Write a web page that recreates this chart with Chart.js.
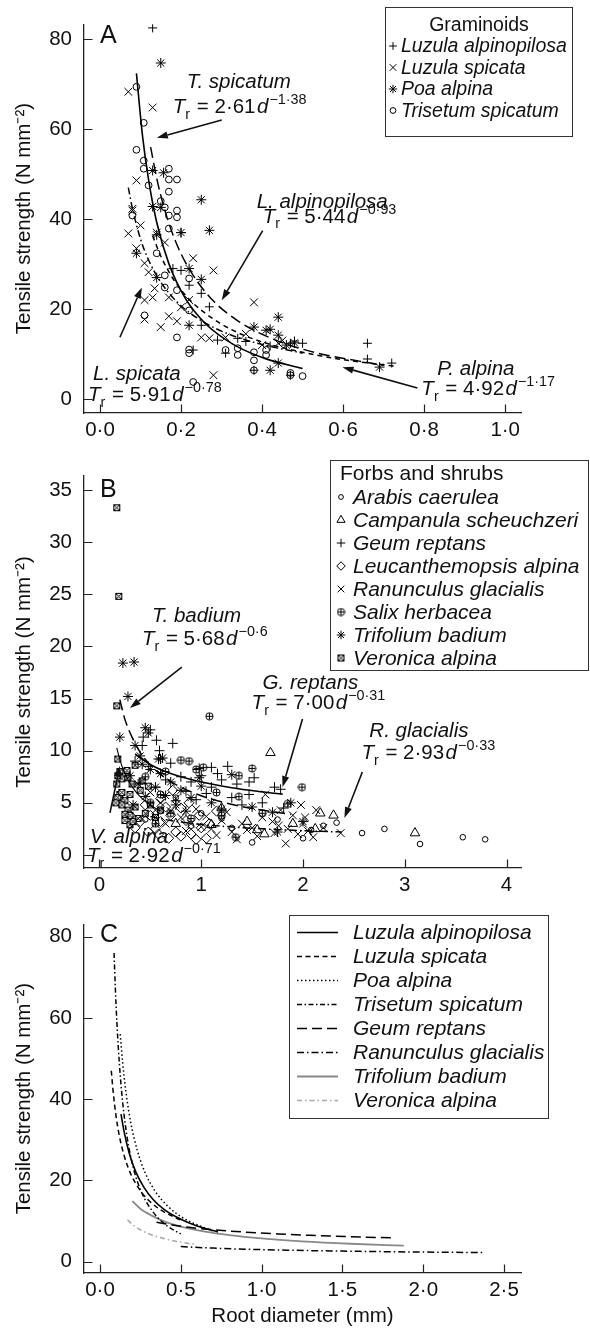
<!DOCTYPE html>
<html><head><meta charset="utf-8">
<script src="https://cdn.jsdelivr.net/npm/chart.js@4.4.1/dist/chart.umd.min.js"></script>
<style>
html,body{margin:0;padding:0;background:#fff;}
#wrap{position:relative;width:590px;height:1332px;overflow:hidden;}
canvas{position:absolute;left:0;}
</style></head><body>
<div id="wrap">
<canvas id="cA" width="590" height="445" style="top:0px"></canvas>
<canvas id="cB" width="590" height="455" style="top:445px"></canvas>
<canvas id="cC" width="590" height="432" style="top:900px"></canvas>
</div>
<script>
// ---------- tick values & labels ----------
const A_XTICKS = [0, 0.2, 0.4, 0.6, 0.8, 1.0];
const A_XLABELS = ['0·0', '0·2', '0·4', '0·6', '0·8', '1·0'];
const A_YTICKS = [0, 20, 40, 60, 80];
const A_YLABELS = ['0', '20', '40', '60', '80'];
const B_XTICKS = [0, 1, 2, 3, 4];
const B_XLABELS = ['0', '1', '2', '3', '4'];
const B_YTICKS = [0, 5, 10, 15, 20, 25, 30, 35];
const B_YLABELS = ['0', '5', '10', '15', '20', '25', '30', '35'];
const C_XTICKS = [0, 0.5, 1.0, 1.5, 2.0, 2.5];
const C_XLABELS = ['0·0', '0·5', '1·0', '1·5', '2·0', '2·5'];
const C_YTICKS = [0, 20, 40, 60, 80];
const C_YLABELS = ['0', '20', '40', '60', '80'];

// ---------- species names ----------
const GRAMINOIDS = ['Luzula alpinopilosa', 'Luzula spicata', 'Poa alpina', 'Trisetum spicatum'];
const FORBS = ['Arabis caerulea', 'Campanula scheuchzeri', 'Geum reptans', 'Leucanthemopsis alpina',
  'Ranunculus glacialis', 'Salix herbacea', 'Trifolium badium', 'Veronica alpina'];
const C_SPECIES = ['Luzula alpinopilosa', 'Luzula spicata', 'Poa alpina', 'Trisetum spicatum',
  'Geum reptans', 'Ranunculus glacialis', 'Trifolium badium', 'Veronica alpina'];

// ---------- Panel A points [diameter mm, tensile strength] ----------
const A_LUZ_ALP = [[0.13,82.5],[0.20,37.0],[0.20,28.6],[0.22,25.3],[0.25,23.5],[0.25,16.4],[0.29,13.1],[0.23,10.9],[0.31,10.2],[0.34,13.5],[0.38,6.4],[0.36,12.8],[0.47,12.4],[0.48,12.9],[0.50,12.4],[0.66,12.4],[0.66,8.9],[0.72,8.0],[0.47,5.3],[0.18,29.0],[0.27,20.5],[0.42,11.8]];
const A_LUZ_SPI = [[0.07,68.3],[0.13,64.8],[0.09,48.6],[0.08,42.3],[0.08,41.9],[0.07,36.8],[0.10,38.6],[0.14,37.0],[0.11,30.2],[0.16,34.8],[0.23,31.3],[0.28,28.6],[0.12,28.2],[0.135,24.6],[0.11,22.0],[0.13,22.6],[0.17,22.6],[0.22,22.0],[0.20,20.4],[0.38,21.5],[0.11,17.7],[0.17,18.4],[0.19,17.3],[0.15,16.0],[0.25,13.7],[0.27,13.5],[0.31,13.7],[0.28,5.3],[0.44,12.4],[0.45,13.0],[0.09,33.5],[0.36,14.5],[0.40,12.0]];
const A_POA = [[0.15,74.7],[0.13,50.8],[0.157,50.3],[0.25,44.3],[0.13,42.8],[0.15,42.6],[0.20,37.0],[0.27,37.5],[0.09,32.4],[0.22,29.0],[0.25,26.6],[0.14,27.0],[0.22,16.4],[0.38,16.0],[0.41,15.3],[0.42,15.5],[0.44,18.2],[0.44,14.2],[0.42,6.4],[0.44,8.0],[0.69,7.1],[0.48,12.5],[0.14,36.5],[0.46,12.0]];
const A_TRI = [[0.09,69.4],[0.108,61.4],[0.09,55.4],[0.108,53.0],[0.108,51.2],[0.17,51.2],[0.17,48.8],[0.19,48.8],[0.17,46.1],[0.08,40.8],[0.16,42.6],[0.17,40.8],[0.19,41.9],[0.19,40.4],[0.17,37.9],[0.14,32.4],[0.16,27.5],[0.16,24.8],[0.19,24.2],[0.22,26.8],[0.22,19.7],[0.11,18.6],[0.19,13.7],[0.22,10.2],[0.22,11.0],[0.31,10.9],[0.34,11.3],[0.34,9.8],[0.38,10.4],[0.38,8.6],[0.41,10.9],[0.41,9.8],[0.38,6.4],[0.23,3.8],[0.47,5.3],[0.50,5.1],[0.47,5.8],[0.15,44.0],[0.12,47.5]];

// ---------- Panel B points ----------
const B_ARA = [[2.33,3.1],[2.58,2.1],[2.80,2.5],[3.15,1.05],[3.57,1.7],[3.79,1.5],[2.00,1.6],[2.08,2.4],[1.50,1.2],[0.90,2.8],[1.20,3.5],[0.60,4.2],[0.75,5.5],[1.00,4.0],[1.30,2.6],[2.20,2.8],[0.45,3.4],[1.75,3.4]];
const B_CAM = [[1.68,9.8],[2.17,4.0],[2.30,3.8],[3.10,2.1],[1.55,2.4],[1.62,2.0],[1.90,3.0],[1.45,3.2],[0.75,3.0],[1.10,2.9],[1.20,4.5],[2.12,2.5]];
const B_GEUM = [[0.43,11.3],[0.56,11.0],[0.72,10.7],[0.59,10.0],[0.98,8.3],[1.10,8.4],[1.26,8.5],[1.16,7.8],[1.47,7.0],[1.10,6.5],[1.72,6.5],[1.47,5.8],[1.81,4.5],[0.50,12.0],[0.42,10.5],[0.35,9.0],[0.48,8.5],[0.60,9.2],[0.70,8.8],[0.80,7.5],[0.90,7.0],[1.00,7.6],[1.20,7.2],[1.35,6.8],[0.65,7.2],[0.55,6.5],[0.85,6.1],[1.05,5.9],[1.30,5.5],[1.60,5.0],[0.75,5.2],[0.40,6.9],[0.95,5.3],[1.40,4.8],[1.52,7.4],[1.78,6.3]];
const B_LEU = [[0.55,2.5],[0.60,3.2],[0.70,3.8],[0.75,2.2],[0.80,4.5],[0.85,3.3],[0.90,2.0],[0.95,1.5],[1.00,2.6],[1.05,1.6],[0.65,4.6],[0.50,3.8],[0.45,4.8],[0.40,3.2],[0.35,2.6],[0.60,5.4],[0.72,6.2],[0.88,5.0],[1.08,3.0],[1.15,4.2],[0.80,1.8],[0.30,3.8],[0.48,2.2],[0.98,3.8],[0.68,1.6],[0.58,2.0]];
const B_RAN = [[0.50,6.0],[0.60,5.0],[0.70,4.2],[0.80,3.6],[0.90,3.0],[1.00,2.7],[1.10,2.5],[1.20,3.3],[1.30,2.2],[1.40,3.0],[1.50,2.6],[1.55,1.8],[1.63,5.8],[1.70,3.2],[1.76,2.8],[1.83,1.1],[1.85,2.5],[1.90,3.8],[1.95,2.0],[2.00,3.0],[2.05,2.3],[2.10,1.7],[2.13,4.3],[2.20,2.6],[2.37,2.1],[0.65,3.0],[0.75,5.4],[0.85,2.3],[0.95,4.4],[1.05,3.7],[1.15,1.9],[1.25,4.1],[1.35,1.5],[1.45,2.4],[1.60,3.6],[0.55,4.3],[1.72,2.1],[1.98,4.8],[1.78,4.3],[2.02,3.6]];
const B_SAL = [[1.08,13.3],[0.80,9.1],[0.88,9.0],[1.50,8.3],[1.37,7.6],[1.37,5.6],[1.34,1.7],[1.99,6.5],[0.95,8.2],[0.60,5.8],[0.70,4.0],[0.55,3.0],[0.90,3.5],[0.50,5.0],[1.20,3.8],[0.45,7.5],[1.15,6.0],[1.60,4.0],[0.65,8.0],[1.85,4.9],[1.02,8.4]];
const B_TRIF = [[0.23,18.4],[0.34,18.5],[0.28,15.2],[0.20,11.3],[0.45,12.2],[0.48,11.7],[0.58,9.2],[1.30,7.7],[1.88,5.0],[0.35,10.5],[0.40,9.5],[0.50,8.2],[0.60,7.8],[0.70,7.0],[0.80,6.2],[0.90,5.5],[1.00,6.6],[1.10,5.0],[1.50,4.6],[1.70,4.1],[0.30,7.6],[0.38,6.8],[0.42,8.7],[0.55,6.5],[0.65,5.7],[0.75,4.8],[0.85,4.2],[1.20,4.4],[2.00,3.2],[1.75,2.2],[0.45,5.6],[0.33,4.8],[0.62,9.3],[0.98,7.4]];
const B_VER = [[0.17,33.3],[0.19,24.8],[0.17,14.3],[0.18,9.2],[0.20,8.0],[0.22,7.3],[0.17,6.8],[0.20,5.8],[0.18,5.5],[0.25,5.2],[0.22,4.8],[0.28,4.3],[0.30,3.8],[0.25,3.3],[0.30,5.8],[0.35,4.6],[0.40,6.2],[0.38,3.5],[0.45,4.0],[0.50,4.8],[0.55,3.6],[0.60,4.3],[0.42,7.1],[0.32,6.8],[0.27,8.1],[0.35,8.6],[0.48,6.6],[0.22,6.0],[0.16,5.0],[0.30,2.9],[0.25,3.9],[0.28,7.4],[0.18,7.6],[0.33,3.2]];

// ---------- fitted curves, values ----------
const CV_LUZALP_D = [0.13,0.15,0.18,0.22,0.27,0.33,0.40,0.50,0.60,0.73];
const CV_LUZALP_T = [36.3,31.8,26.8,22.2,18.4,15.2,12.7,10.4,8.75,7.29];
const CV_LUZSPI_D = [0.07,0.08,0.10,0.12,0.15,0.19,0.24,0.30,0.38,0.50];
const CV_LUZSPI_T = [47.0,42.4,35.6,30.9,26.0,21.6,18.0,15.1,12.6,10.2];
const CV_POA_D = [0.125,0.14,0.16,0.19,0.23,0.28,0.34,0.42,0.52,0.70];
const CV_POA_T = [56.0,49.1,42.0,34.3,27.5,21.8,17.4,13.6,10.6,7.47];
const CV_TRI_D = [0.087,0.095,0.105,0.12,0.14,0.17,0.21,0.26,0.33,0.41,0.50];
const CV_TRI_T = [76.0,67.3,58.5,48.7,39.3,30.1,22.5,16.8,12.1,8.93,6.79];
const CVA_TRI_D = [0.09,0.105,0.12,0.14,0.17,0.21,0.26,0.33,0.41,0.50];
const CVA_TRI_T = [72.4,58.5,48.7,39.3,30.1,22.5,16.8,12.1,8.93,6.79];
const CV_GEUM_D = [0.35,0.45,0.55,0.70,0.90,1.10,1.30,1.55,1.80];
const CV_GEUM_T = [9.69,8.97,8.42,7.82,7.23,6.80,6.45,6.11,5.83];
const CV_RAN_D = [0.50,0.70,0.90,1.20,1.50,1.80,2.10,2.38];
const CV_RAN_T = [3.68,3.30,3.03,2.76,2.56,2.41,2.29,2.20];
const CV_TRIF_D = [0.20,0.25,0.32,0.40,0.50,0.65,0.80,1.00,1.25,1.55,1.88];
const CV_TRIF_T = [14.9,13.0,11.3,9.84,8.61,7.35,6.49,5.68,4.97,4.37,3.89];
const CV_VER_D = [0.17,0.20,0.24,0.29,0.35,0.42,0.50,0.60];
const CV_VER_T = [10.27,9.15,8.04,7.03,6.15,5.41,4.78,4.20];

// ---------- equations ----------
const A_EQ_NAMES = ['T. spicatum', 'L. alpinopilosa', 'L. spicata', 'P. alpina'];
const A_EQ_COEF = ['2·61', '5·44', '5·91', '4·92'];
const A_EQ_EXP = ['−1·38', '−0·93', '−0·78', '−1·17'];
const B_EQ_NAMES = ['T. badium', 'G. reptans', 'R. glacialis', 'V. alpina'];
const B_EQ_COEF = ['5·68', '7·00', '2·93', '2·92'];
const B_EQ_EXP = ['−0·6', '−0·31', '−0·33', '−0·71'];

// ================= rendering =================
const FONT = '"Liberation Sans", Arial, Helvetica, sans-serif';
const INK = '#111';

function mkImg(draw) {
  const c = document.createElement('canvas'); c.width = 9; c.height = 9;
  const g = c.getContext('2d'); g.strokeStyle = '#000'; g.lineWidth = 1; draw(g); return c;
}
const SALIX_STYLE = mkImg(g => {
  g.beginPath(); g.arc(4.5, 4.5, 3.6, 0, Math.PI * 2); g.stroke();
  g.beginPath(); g.moveTo(4.5, 1.2); g.lineTo(4.5, 7.8); g.moveTo(1.2, 4.5); g.lineTo(7.8, 4.5); g.stroke();
});
const VER_STYLE = mkImg(g => {
  g.fillStyle = '#eee'; g.fillRect(1, 1, 7, 7); g.strokeRect(1.5, 1.5, 6, 6);
  g.beginPath(); g.moveTo(1.5, 1.5); g.lineTo(7.5, 7.5); g.moveTo(7.5, 1.5); g.lineTo(1.5, 7.5); g.stroke();
});

const A_MARK = [{s:'cross', r:4.5}, {s:'crossRot', r:5.5}, {s:'star', r:5}, {s:'circle', r:3.4}];
const B_MARK = [{s:'circle', r:2.8}, {s:'triangle', r:5.5}, {s:'cross', r:5}, {s:'rectRot', r:5},
  {s:'crossRot', r:5.5}, {s:SALIX_STYLE, r:4.5}, {s:'star', r:5}, {s:VER_STYLE, r:4.5}];
const C_LINE = [
  {c:'#000', w:1.6, d:[]}, {c:'#000', w:1.5, d:[5, 3.5]}, {c:'#000', w:1.5, d:[1.5, 2.5]},
  {c:'#000', w:1.5, d:[5, 2.5, 1.5, 2.5]}, {c:'#000', w:1.5, d:[10, 5]}, {c:'#000', w:1.5, d:[7, 3, 1.5, 3]},
  {c:'#888', w:1.8, d:[]}, {c:'#a8a8a8', w:1.5, d:[5, 3, 1.5, 3]}];

function pts(arr) { return arr.map(p => ({x: p[0], y: p[1]})); }
function curve(d, t) { return d.map((x, i) => ({x: x, y: t[i]})); }
function scat(arr, m) {
  return {data: pts(arr), pointStyle: m.s, pointRadius: m.r, pointHoverRadius: m.r, borderColor: '#000',
    backgroundColor: 'rgba(0,0,0,0)', borderWidth: 1, showLine: false};
}
function line(d, t, st) {
  return {data: curve(d, t), showLine: true, pointRadius: 0, pointHoverRadius: 0, borderColor: st.c,
    borderWidth: st.w, borderDash: st.d, fill: false, cubicInterpolationMode: 'monotone'};
}

function drawRich(ctx, x, y, parts, size) {
  ctx.textBaseline = 'alphabetic'; ctx.textAlign = 'left'; ctx.fillStyle = INK;
  let cx = x;
  for (const p of parts) {
    const small = p.sub || p.sup;
    const fs = small ? size * 0.7 : size;
    ctx.font = (p.it ? 'italic ' : '') + fs + 'px ' + FONT;
    const dy = p.sup ? -size * 0.42 : (p.sub ? size * 0.28 : 0);
    ctx.fillText(p.t, cx, y + dy);
    cx += ctx.measureText(p.t).width + (p.gap || 0);
  }
}
function eqParts(coef, ex) {
  return [{t:'T', it:true}, {t:'r', sub:true, gap:1}, {t:' = ' + coef, gap:1.5}, {t:'d', it:true, gap:1}, {t:ex, sup:true}];
}
function arrow(ctx, x1, y1, x2, y2) {
  const a = Math.atan2(y2 - y1, x2 - x1), L = 11, W = 3.6;
  const bx = x2 - L * Math.cos(a), by = y2 - L * Math.sin(a);
  ctx.setLineDash([]); ctx.lineWidth = 1.6; ctx.strokeStyle = INK; ctx.fillStyle = INK;
  ctx.beginPath(); ctx.moveTo(x1, y1); ctx.lineTo(bx, by); ctx.stroke();
  ctx.beginPath(); ctx.moveTo(x2, y2);
  ctx.lineTo(bx - W * Math.sin(a), by + W * Math.cos(a));
  ctx.lineTo(bx + W * Math.sin(a), by - W * Math.cos(a)); ctx.closePath(); ctx.fill();
}
function drawMark(ctx, m, x, y) {
  ctx.save(); ctx.strokeStyle = '#000'; ctx.fillStyle = 'rgba(0,0,0,0)'; ctx.lineWidth = 1; ctx.setLineDash([]);
  if (typeof m.s === 'object') { ctx.drawImage(m.s, x - 4.5, y - 4.5); ctx.restore(); return; }
  Chart.helpers.drawPoint(ctx, {pointStyle: m.s, radius: m.r * 0.85, rotation: 0, borderWidth: 1}, x, y);
  ctx.restore();
}

function panelPlugin(cfg) {
  return {
    id: 'panel' + cfg.letter,
    afterDraw(chart) {
      const ctx = chart.ctx, xs = chart.scales.x, ys = chart.scales.y, ca = chart.chartArea;
      const P = (x, y) => [xs.getPixelForValue(x), ys.getPixelForValue(y)];
      ctx.save();
      // inward tick marks
      ctx.strokeStyle = '#222'; ctx.lineWidth = 1.2; ctx.setLineDash([]);
      ctx.beginPath();
      cfg.xt.forEach(v => { const x = Math.round(xs.getPixelForValue(v)) + 0.5; ctx.moveTo(x, ca.bottom); ctx.lineTo(x, ca.bottom - 8.5); });
      cfg.yt.forEach(v => { const y = Math.round(ys.getPixelForValue(v)) + 0.5; ctx.moveTo(ca.left, y); ctx.lineTo(ca.left + 8.5, y); });
      ctx.stroke();
      // panel letter
      ctx.fillStyle = INK; ctx.font = '25px ' + FONT; ctx.textAlign = 'left'; ctx.textBaseline = 'alphabetic';
      const lp = P(cfg.letterPos[0], cfg.letterPos[1]);
      ctx.fillText(cfg.letter, lp[0], lp[1]);
      // equations & arrows
      (cfg.ann || []).forEach(a => {
        const np = P(a.n[0], a.n[1]);
        ctx.font = 'italic 20.5px ' + FONT; ctx.fillStyle = INK; ctx.textAlign = 'left';
        ctx.fillText(a.name, np[0], np[1]);
        const ep = P(a.e[0], a.e[1]);
        drawRich(ctx, ep[0], ep[1], eqParts(a.coef, a.ex), 20.5);
        const p1 = P(a.arr[0], a.arr[1]), p2 = P(a.arr[2], a.arr[3]);
        arrow(ctx, p1[0], p1[1], p2[0], p2[1]);
      });
      // legend
      const L = cfg.legend;
      if (L) {
        ctx.setLineDash([]); ctx.lineWidth = 1; ctx.strokeStyle = '#333';
        ctx.fillStyle = '#fff'; ctx.fillRect(L.x, L.y, L.w, L.h);
        ctx.strokeRect(L.x + 0.5, L.y + 0.5, L.w, L.h);
        ctx.fillStyle = INK;
        if (L.title) {
          ctx.font = L.fs + 'px ' + FONT; ctx.textAlign = L.titleAlign; ctx.textBaseline = 'alphabetic';
          ctx.fillText(L.title, L.titleX, L.titleY);
        }
        L.names.forEach((nm, i) => {
          const cy = L.row0 + i * L.dy;
          if (L.marks) drawMark(ctx, L.marks[i], L.mx, cy);
          if (L.lines) {
            const st = L.lines[i];
            ctx.save(); ctx.strokeStyle = st.c; ctx.lineWidth = st.w; ctx.setLineDash(st.d);
            ctx.beginPath(); ctx.moveTo(L.lx0, cy + 0.5); ctx.lineTo(L.lx1, cy + 0.5); ctx.stroke(); ctx.restore();
          }
          ctx.fillStyle = INK; ctx.font = 'italic ' + L.fs + 'px ' + FONT; ctx.textAlign = 'left'; ctx.textBaseline = 'middle';
          ctx.fillText(nm, L.tx, cy + 1);
        });
      }
      ctx.restore();
    }
  };
}

function makeChart(id, cfg) {
  const tickFont = {family: FONT, size: 20.5};
  return new Chart(document.getElementById(id), {
    type: 'scatter',
    data: {datasets: cfg.datasets},
    options: {
      responsive: false, animation: false, devicePixelRatio: 1,
      layout: {padding: {left: 0, right: 69, top: cfg.top, bottom: 0}},
      plugins: {legend: {display: false}, tooltip: {enabled: false}},
      scales: {
        x: {
          type: 'linear', position: 'bottom', min: cfg.xmin, max: cfg.xmax,
          afterFit: s => { s.height = cfg.xH; },
          afterBuildTicks: s => { s.ticks = cfg.xt.map(v => ({value: v})); },
          grid: {display: false, drawTicks: false, tickLength: 0},
          border: {display: true, color: '#222', width: 1.3},
          ticks: {color: INK, font: tickFont, padding: 5, autoSkip: false, maxRotation: 0, minRotation: 0,
            callback: (v, i) => cfg.xl[i]},
          title: cfg.xTitle ? {display: true, text: cfg.xTitle, color: INK, font: {family: FONT, size: 20.5},
            padding: {top: 0, bottom: 3}} : {display: false}
        },
        y: {
          type: 'linear', position: 'left', min: cfg.ymin, max: cfg.ymax,
          afterFit: s => { s.width = 84; },
          afterBuildTicks: s => { s.ticks = cfg.yt.map(v => ({value: v})); },
          grid: {display: false, drawTicks: false, tickLength: 0},
          border: {display: true, color: '#222', width: 1.3},
          ticks: {color: INK, font: tickFont, padding: 12, autoSkip: false, callback: (v, i) => cfg.yl[i]},
          title: {display: true, text: 'Tensile strength (N mm⁻²)', color: INK, font: {family: FONT, size: 20.5},
            padding: {top: 12, bottom: 0}}
        }
      }
    },
    plugins: [panelPlugin(cfg)]
  });
}

// ---------- Panel A ----------
makeChart('cA', {
  letter: 'A', letterPos: [0, 79.1], top: 23, xH: 32,
  xmin: -0.0394, xmax: 1.039, ymin: -3.1, ymax: 83.3,
  xt: A_XTICKS, xl: A_XLABELS, yt: A_YTICKS, yl: A_YLABELS,
  datasets: [
    line(CVA_TRI_D, CVA_TRI_T, {c:'#000', w:1.6, d:[]}),
    line(CV_LUZALP_D, CV_LUZALP_T, {c:'#000', w:1.5, d:[5, 4]}),
    line(CV_LUZSPI_D, CV_LUZSPI_T, {c:'#000', w:1.5, d:[7, 3, 1.5, 3]}),
    line(CV_POA_D, CV_POA_T, {c:'#000', w:1.5, d:[11, 5]}),
    scat(A_LUZ_ALP, A_MARK[0]), scat(A_LUZ_SPI, A_MARK[1]), scat(A_POA, A_MARK[2]), scat(A_TRI, A_MARK[3])
  ],
  ann: [
    {name: A_EQ_NAMES[0], coef: A_EQ_COEF[0], ex: A_EQ_EXP[0], n: [0.2143, 69.1], e: [0.1798, 63.6], arr: [0.3005, 62.05, 0.1404, 58.06]},
    {name: A_EQ_NAMES[1], coef: A_EQ_COEF[1], ex: A_EQ_EXP[1], n: [0.3867, 42.5], e: [0.4015, 39.2], arr: [0.4015, 37.45, 0.3005, 21.94]},
    {name: A_EQ_NAMES[2], coef: A_EQ_COEF[2], ex: A_EQ_EXP[2], n: [-0.0172, 4.2], e: [-0.0296, -0.44], arr: [0.0493, 13.74, 0.1034, 24.82]},
    {name: A_EQ_NAMES[3], coef: A_EQ_COEF[3], ex: A_EQ_EXP[3], n: [0.8325, 5.3], e: [0.7931, 0.89], arr: [0.7833, 2.44, 0.5985, 7.09]}
  ],
  legend: {x: 385, y: 7, w: 187, h: 129, fs: 19.5, title: 'Graminoids', titleAlign: 'center', titleX: 479, titleY: 31,
    names: GRAMINOIDS, marks: A_MARK, mx: 393, tx: 401, row0: 46, dy: 21.5}
});

// ---------- Panel B ----------
makeChart('cB', {
  letter: 'B', letterPos: [0.005, 34.3], top: 31, xH: 32,
  xmin: -0.152, xmax: 4.142, ymin: -1.25, ymax: 36.34,
  xt: B_XTICKS, xl: B_XLABELS, yt: B_YTICKS, yl: B_YLABELS,
  datasets: [
    line(CV_TRIF_D, CV_TRIF_T, {c:'#000', w:1.5, d:[11, 5]}),
    line(CV_GEUM_D, CV_GEUM_T, {c:'#000', w:1.6, d:[]}),
    line(CV_RAN_D, CV_RAN_T, {c:'#000', w:1.5, d:[8, 3, 1.5, 3]}),
    line(CV_VER_D, CV_VER_T, {c:'#000', w:1.1, d:[]}),
    scat(B_ARA, B_MARK[0]), scat(B_CAM, B_MARK[1]), scat(B_GEUM, B_MARK[2]), scat(B_LEU, B_MARK[3]),
    scat(B_RAN, B_MARK[4]), scat(B_SAL, B_MARK[5]), scat(B_TRIF, B_MARK[6]), scat(B_VER, B_MARK[7])
  ],
  ann: [
    {name: B_EQ_NAMES[0], coef: B_EQ_COEF[0], ex: B_EQ_EXP[0], n: [0.515, 22.34], e: [0.417, 20.13], arr: [0.809, 18.02, 0.299, 14.09]},
    {name: B_EQ_NAMES[1], coef: B_EQ_COEF[1], ex: B_EQ_EXP[1], n: [1.603, 15.92], e: [1.495, 14.0], arr: [1.995, 13.04, 1.799, 6.52]},
    {name: B_EQ_NAMES[2], coef: B_EQ_COEF[2], ex: B_EQ_EXP[2], n: [2.652, 11.31], e: [2.574, 9.2], arr: [2.583, 7.96, 2.407, 3.55]},
    {name: B_EQ_NAMES[3], coef: B_EQ_COEF[3], ex: B_EQ_EXP[3], n: [-0.093, 1.15], e: [-0.123, -0.67], arr: [0.103, 4.03, 0.201, 8.53]}
  ],
  legend: {x: 330, y: 15, w: 258, h: 210, fs: 21, title: 'Forbs and shrubs', titleAlign: 'left', titleX: 340, titleY: 35,
    names: FORBS, marks: B_MARK, mx: 341, tx: 353, row0: 52, dy: 23}
});

// ---------- Panel C ----------
makeChart('cC', {
  letter: 'C', letterPos: [0, 78.8], top: 9, xH: 59, xTitle: 'Root diameter (mm)',
  xmin: -0.099, xmax: 2.605, ymin: -2.83, ymax: 83.07,
  xt: C_XTICKS, xl: C_XLABELS, yt: C_YTICKS, yl: C_YLABELS,
  datasets: [
    line(CV_LUZALP_D, CV_LUZALP_T, C_LINE[0]),
    line(CV_LUZSPI_D, CV_LUZSPI_T, C_LINE[1]),
    line(CV_POA_D, CV_POA_T, C_LINE[2]),
    line(CV_TRI_D, CV_TRI_T, C_LINE[3]),
    line(CV_GEUM_D, CV_GEUM_T, C_LINE[4]),
    line(CV_RAN_D, CV_RAN_T, C_LINE[5]),
    line(CV_TRIF_D, CV_TRIF_T, C_LINE[6]),
    line(CV_VER_D, CV_VER_T, C_LINE[7])
  ],
  legend: {x: 289, y: 15, w: 259, h: 203, fs: 21, title: null,
    names: C_SPECIES, lines: C_LINE, lx0: 297, lx1: 338, tx: 353, row0: 32, dy: 24}
});
</script>
</body></html>
